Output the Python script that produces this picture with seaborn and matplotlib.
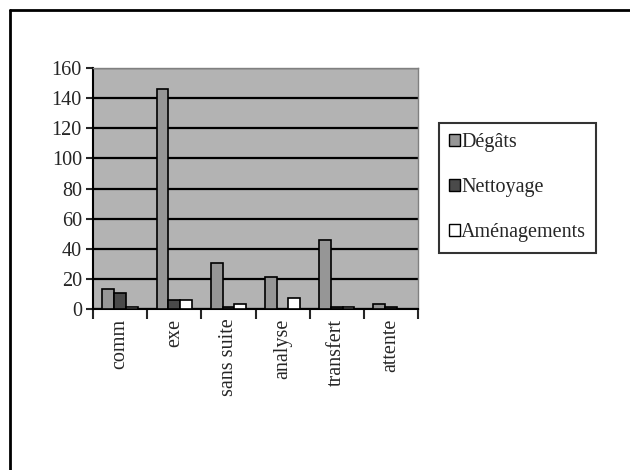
import matplotlib
matplotlib.use("Agg")
import matplotlib.pyplot as plt
import seaborn as sns
import pandas as pd
from matplotlib.patches import Patch
from matplotlib.lines import Line2D

categories = ["comm", "exe", "sans suite", "analyse", "transfert", "attente"]
series_names = ["Dégâts", "Nettoyage", "Aménagements"]
degats = [13.5, 146, 30.5, 21, 45.5, 3]
nettoyage = [10.5, 6, 1, 0, 1, 1.5]
amenagements = [1.5, 6, 3, 7.5, 1, 0]
y_ticks = [0, 20, 40, 60, 80, 100, 120, 140, 160]
colors = ["#969696", "#4a4a4a", "#ffffff"]

rows = []
for name, vals in zip(series_names, [degats, nettoyage, amenagements]):
    for c, v in zip(categories, vals):
        rows.append({"cat": c, "serie": name, "val": v})
df = pd.DataFrame(rows)

sns.set_theme(style="white")
plt.rcParams["font.family"] = ["Liberation Serif", "DejaVu Serif"]

FS = 14.5
fig = plt.figure(figsize=(6.3, 4.7), dpi=100)
ax = fig.add_axes([93/630, 1-309/470, (418-93)/630, (309-68)/470])
ax.set_facecolor("#b3b3b3")

sns.barplot(data=df, x="cat", y="val", hue="serie", order=categories,
            hue_order=series_names, palette=colors, width=0.65,
            edgecolor="black", linewidth=1.2, saturation=1, ax=ax,
            legend=False, zorder=3)

ax.set_ylim(0, 160)
ax.set_xlim(-0.5, len(categories) - 0.5)
ax.set_yticks(y_ticks)
ax.set_yticklabels([str(t) for t in y_ticks], fontsize=FS)
ax.yaxis.grid(True, color="black", linewidth=1.6, zorder=1)
ax.set_axisbelow(True)
ax.set_xlabel("")
ax.set_ylabel("")

ax.set_xticks(range(len(categories)))
ax.set_xticklabels(categories, rotation=90, fontsize=FS)
ax.tick_params(axis="x", length=0, pad=7)
ax.tick_params(axis="y", length=5, width=1.5, direction="out", left=True, pad=3)
ax.set_xticks([i - 0.5 for i in range(len(categories) + 1)], minor=True)
ax.tick_params(axis="x", which="minor", length=7, width=1.5, direction="out", bottom=True)

for s in ["left", "bottom"]:
    ax.spines[s].set_color("black")
    ax.spines[s].set_linewidth(1.5)
for s in ["top", "right"]:
    ax.spines[s].set_color("#808080")
    ax.spines[s].set_linewidth(1.0)

handles = [Patch(facecolor=c, edgecolor="black", linewidth=1.0) for c in colors]
leg = fig.legend(handles, series_names, loc="upper left",
                 bbox_to_anchor=(439/630, 1-123/470), fontsize=FS,
                 handlelength=0.55, handleheight=0.55, handletextpad=0.05,
                 labelspacing=1.3, borderpad=0.5, borderaxespad=0,
                 frameon=True, fancybox=False, edgecolor="black")
leg.get_frame().set_linewidth(1.5)

fig.add_artist(Line2D([10/630, 10/630], [0, 1-10/470], color="black", linewidth=2, transform=fig.transFigure))
fig.add_artist(Line2D([10/630, 1], [1-10/470, 1-10/470], color="black", linewidth=2, transform=fig.transFigure))

fig.savefig("out.png", dpi=100)
